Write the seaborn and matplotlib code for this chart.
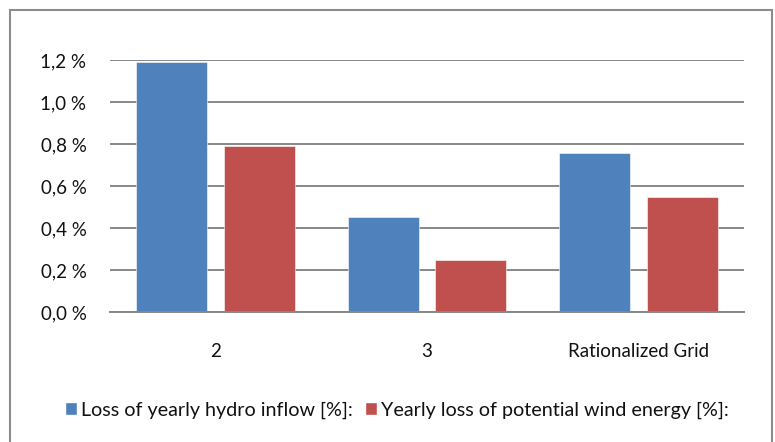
import matplotlib
matplotlib.use("Agg")
import matplotlib.pyplot as plt
import seaborn as sns
import pandas as pd
from matplotlib.patches import Rectangle
from matplotlib.ticker import FuncFormatter

categories = ["2", "3", "Rationalized Grid"]
series_names = ["Loss of yearly hydro inflow [%]:", "Yearly loss of potential wind energy [%]:"]
hydro_loss = [1.19, 0.454, 0.756]
wind_loss = [0.79, 0.248, 0.549]
y_ticks = [0.0, 0.2, 0.4, 0.6, 0.8, 1.0, 1.2]
colors = ["#4F81BD", "#C0504D"]

df = pd.DataFrame({
    "category": categories * 2,
    "series": [series_names[0]] * 3 + [series_names[1]] * 3,
    "value": hydro_loss + wind_loss,
})

sns.set_theme(style="white")
plt.rcParams["font.family"] = ["Lato", "DejaVu Sans"]

FS = 13.5
W, H = 775, 442
fig = plt.figure(figsize=(W / 100, H / 100), dpi=100)
ax = fig.add_axes([110 / W, 1 - 312 / H, (744 - 110) / W, (312 - 60) / H])

sns.barplot(data=df, x="category", y="value", hue="series", order=categories,
            hue_order=series_names, palette=colors, width=0.83, gap=0.19,
            saturation=1, ax=ax, legend=False, edgecolor="white", linewidth=0.4)

ax.set_ylim(0, 1.2)
ax.set_yticks(y_ticks)
ax.yaxis.set_major_formatter(FuncFormatter(lambda v, p: f"{v:.1f} %".replace(".", ",")))
ax.grid(axis="y", color="#878787", linewidth=1.4)
ax.set_axisbelow(True)
for s in ["top", "right", "left"]:
    ax.spines[s].set_visible(False)
ax.spines["bottom"].set_color("#878787")
ax.spines["bottom"].set_linewidth(1.4)
ax.set_xlabel("")
ax.set_ylabel("")
ax.tick_params(axis="y", length=0, pad=17, labelsize=FS, labelcolor="#111111")
ax.tick_params(axis="x", length=0, pad=22, labelsize=FS, labelcolor="#111111")

handles = [Rectangle((0, 0), 1, 1, facecolor=c) for c in colors]
fig.legend(handles, series_names, loc="center", bbox_to_anchor=(397 / W, 1 - 410 / H),
           ncol=2, frameon=False, fontsize=14.2, handlelength=0.6, handleheight=0.6,
           handletextpad=0.2, columnspacing=0.6, labelcolor="#111111")

border = Rectangle((10 / W, -0.05), (772 - 10) / W, (1 - 10 / H) + 0.05, transform=fig.transFigure,
                   fill=False, edgecolor="#8c8c8c", linewidth=1.5)
fig.patches.append(border)

fig.savefig("out.png", dpi=100)
